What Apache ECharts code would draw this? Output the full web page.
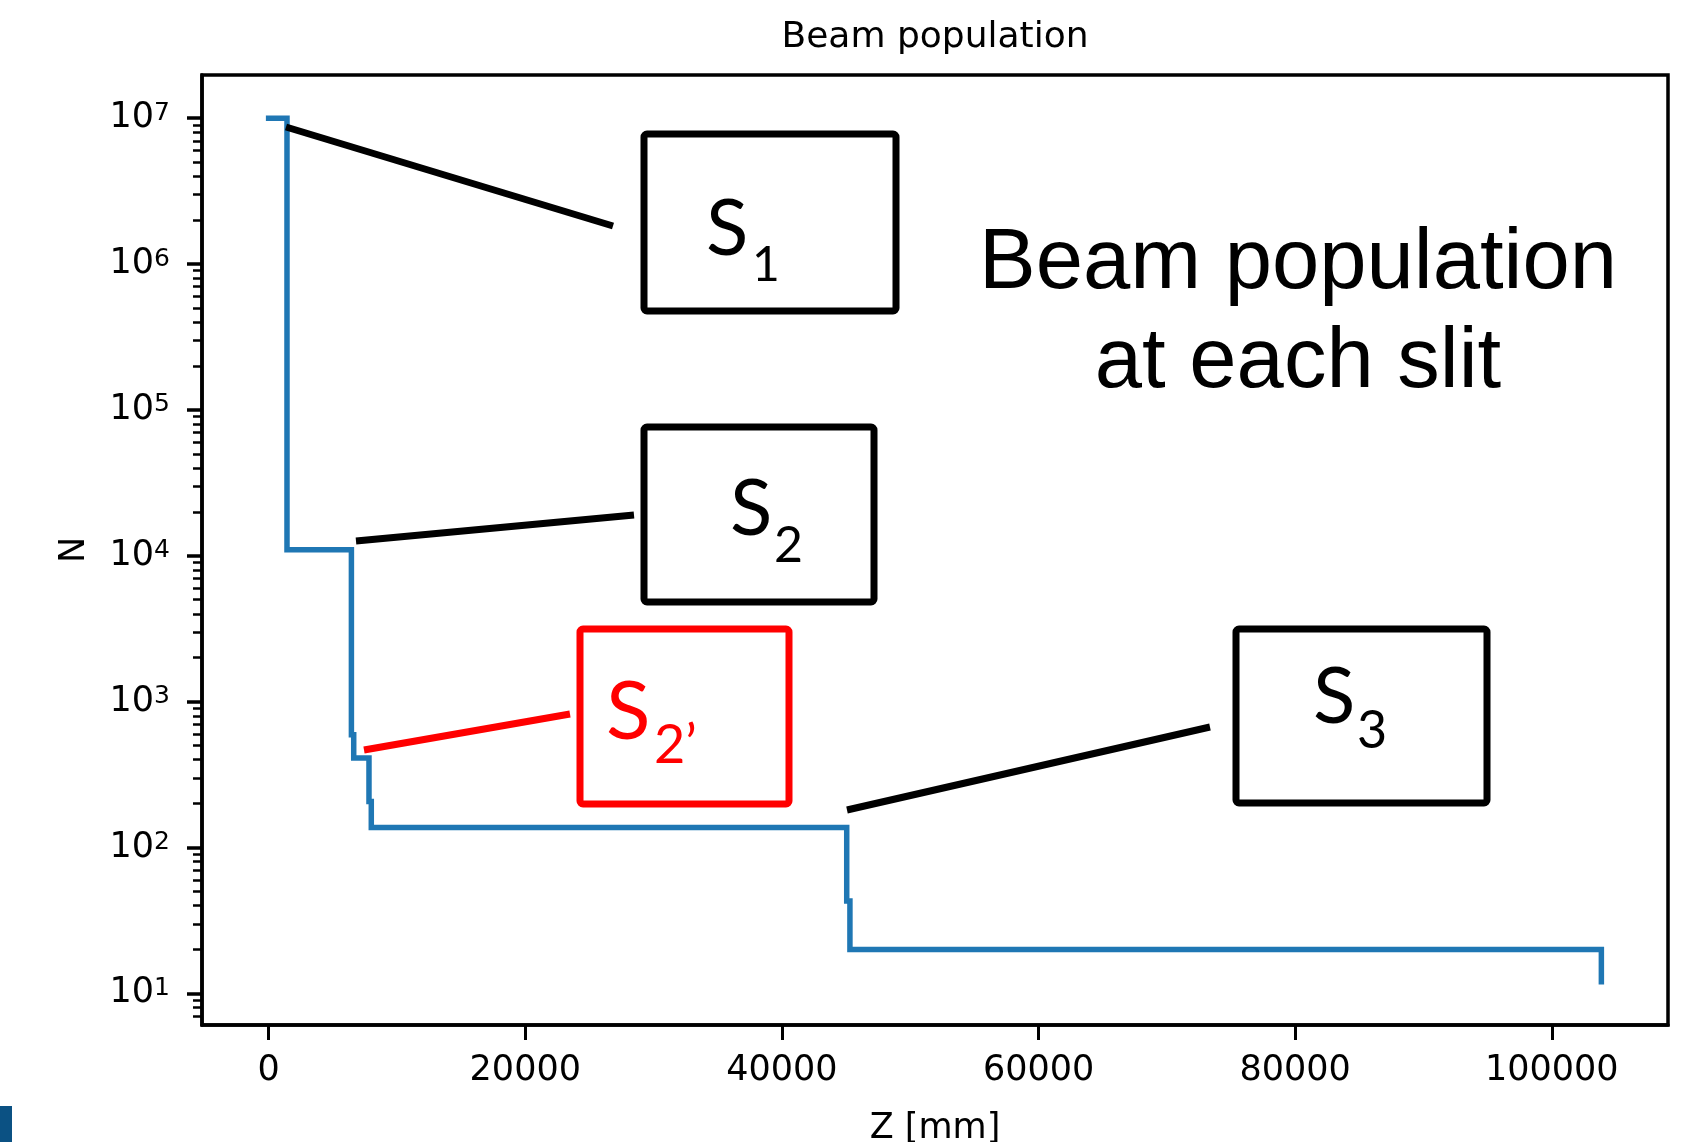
<!DOCTYPE html>
<html>
<head>
<meta charset="utf-8">
<script src="https://cdn.jsdelivr.net/npm/echarts@6/dist/echarts.min.js"></script>
<style>
  html, body { margin: 0; padding: 0; background: #fff; }
  #chart { width: 1687px; height: 1142px; }
</style>
</head>
<body>
<div id="chart"></div>
<script>
// Beam population along the beamline: position z [mm] and surviving particles N
const zMm   = [0, 1430, 1430, 6450, 6450, 6630, 6630, 7820, 7820, 8000, 8000, 45050, 45050, 45300, 45300, 103860, 103860];
const beamN = [1e7, 1e7, 11000, 11000, 594, 594, 411, 411, 207, 207, 137, 137, 43, 43, 20, 20, 12];

// Axis ticks
const zTicks = [0, 20000, 40000, 60000, 80000, 100000];
const nDecades = [10, 100, 1000, 10000, 100000, 1000000, 10000000];
const minorMantissas = [2, 3, 4, 5, 6, 7, 8, 9];

const Z_MIN = -5193, Z_MAX = 109053;
const N_MIN = 6.07, N_MAX = 1.977e7;

const minorTicks = [];
[1, 10, 100, 1000, 10000, 100000, 1000000, 10000000].forEach(function (d) {
  minorMantissas.forEach(function (m) {
    const v = m * d;
    if (v > N_MIN && v < N_MAX) minorTicks.push(v);
  });
});

const TICK_FONT = 'DejaVu Sans';
const SLIT_FONT = 'Lato';

const chart = echarts.init(document.getElementById('chart'), null, { renderer: 'canvas' });

const linePts = zMm.map(function (z, i) { return [z, beamN[i]]; });

function slitLabel(main, sub, sx, sy, bx, by, color, mainSize, subSize) {
  return [
    { type: 'text', x: sx, y: sy, z: 20,
      style: { text: main, fontFamily: SLIT_FONT, fontSize: mainSize, fill: color, align: 'left', verticalAlign: 'middle' } },
    { type: 'text', x: bx, y: by, z: 20,
      style: { text: sub, fontFamily: SLIT_FONT, fontSize: subSize, fill: color, align: 'left', verticalAlign: 'middle' } }
  ];
}

function box(x1, y1, x2, y2, color) {
  return { type: 'rect', z: 20, shape: { x: x1, y: y1, width: x2 - x1, height: y2 - y1, r: 3 },
           style: { fill: 'none', stroke: color, lineWidth: 7 } };
}

function leader(x1, y1, x2, y2, color) {
  return { type: 'line', z: 20, shape: { x1: x1, y1: y1, x2: x2, y2: y2 },
           style: { stroke: color, lineWidth: 7, lineCap: 'butt' } };
}

const option = {
  backgroundColor: '#ffffff',
  animation: false,
  grid: {
    left: 202, right: 19, top: 75, bottom: 117,
    containLabel: false,
    outerBoundsMode: 'none',
    show: true, borderColor: '#000', borderWidth: 3.5, backgroundColor: 'transparent'
  },
  xAxis: {
    type: 'value',
    min: Z_MIN, max: Z_MAX,
    name: 'Z [mm]',
    nameLocation: 'middle',
    nameGap: 86,
    nameTextStyle: { fontFamily: TICK_FONT, fontSize: 35, color: '#000' },
    axisLine: { show: true, onZero: false, lineStyle: { color: '#000', width: 3.5 } },
    axisTick: { show: true, customValues: zTicks, length: 15, lineStyle: { color: '#000', width: 3 } },
    axisLabel: {
      customValues: zTicks, margin: 28, fontFamily: TICK_FONT, fontSize: 35, color: '#000',
      formatter: function (v) { return String(Math.round(v)); }
    },
    splitLine: { show: false }
  },
  yAxis: [
    {
      type: 'log', logBase: 10,
      min: N_MIN, max: N_MAX,
      name: 'N',
      nameLocation: 'middle',
      nameRotate: 90,
      nameGap: 110,
      nameTextStyle: { fontFamily: TICK_FONT, fontSize: 35, color: '#000' },
      axisLine: { show: true, onZero: false, lineStyle: { color: '#000', width: 3.5 } },
      axisTick: { show: true, customValues: nDecades, length: 15, lineStyle: { color: '#000', width: 3.5 } },
      axisLabel: {
        customValues: nDecades,
        margin: 32,
        formatter: function (v) {
          return '{b|10}{s|' + Math.round(Math.log10(v)) + '}';
        },
        rich: {
          b: { fontFamily: TICK_FONT, fontSize: 35, color: '#000' },
          s: { fontFamily: TICK_FONT, fontSize: 25, color: '#000', verticalAlign: 'top' }
        }
      },
      splitLine: { show: false }
    },
    {
      type: 'log', logBase: 10,
      min: N_MIN, max: N_MAX,
      position: 'left',
      axisLine: { show: false, onZero: false },
      axisTick: { show: true, customValues: minorTicks, length: 9, lineStyle: { color: '#000', width: 2.5 } },
      axisLabel: { show: false },
      splitLine: { show: false }
    }
  ],
  series: [{
    type: 'line',
    data: linePts,
    xAxisIndex: 0,
    yAxisIndex: 0,
    symbol: 'none',
    lineStyle: { color: '#1f77b4', width: 5.5, join: 'miter', cap: 'square' },
    z: 5
  }],
  graphic: [
    { type: 'text', x: 935, y: 38, z: 20,
      style: { text: 'Beam population', fontFamily: TICK_FONT, fontSize: 36, fill: '#000', align: 'center', verticalAlign: 'middle' } },
    { type: 'text', x: 1298, y: 314, z: 20,
      style: { text: 'Beam population\nat each slit', fontFamily: 'Liberation Sans', fontSize: 85, lineHeight: 99,
               fill: '#000', align: 'center', verticalAlign: 'middle' } },
    // slit S1
    leader(286, 127, 613, 226, '#000'),
    box(644, 134, 896, 311, '#000'),
    ...slitLabel('S', '1', 706, 230, 752, 266, '#000', 78, 48),
    // slit S2
    leader(356, 541, 634, 515, '#000'),
    box(644, 427, 874, 602, '#000'),
    ...slitLabel('S', '2', 730, 510, 774, 546, '#000', 78, 50),
    // slit S2'
    leader(364, 750, 570, 714, '#ff0000'),
    box(580, 629, 789, 804, '#ff0000'),
    ...slitLabel('S', '2\u2019', 606, 713, 654, 746, '#ff0000', 82, 54),
    // slit S3
    leader(847, 810, 1210, 727, '#000'),
    box(1236, 629, 1487, 803, '#000'),
    ...slitLabel('S', '3', 1313, 698, 1357, 731, '#000', 78, 52),
    // corner marker
    { type: 'rect', z: 20, shape: { x: 0, y: 1106, width: 12, height: 36 }, style: { fill: '#0b5183' } }
  ]
};

chart.setOption(option);
</script>
</body>
</html>
